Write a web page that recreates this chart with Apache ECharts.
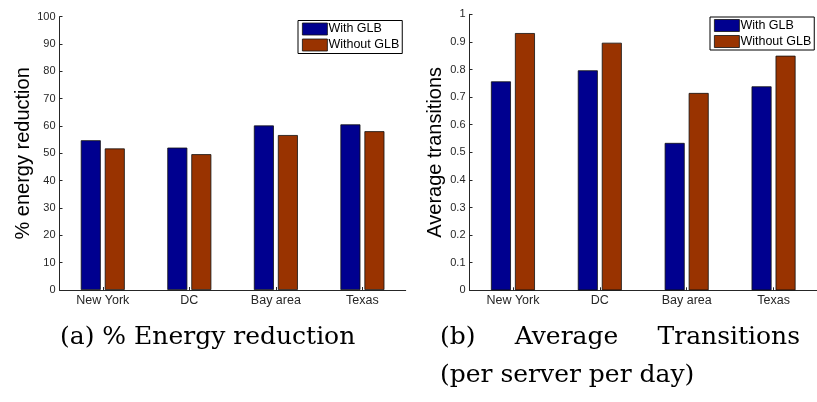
<!DOCTYPE html>
<html>
<head>
<meta charset="utf-8">
<script src="https://cdn.jsdelivr.net/npm/echarts@6/dist/echarts.min.js"></script>
<style>
  html, body { margin: 0; padding: 0; background: #fff; }
  #chart { width: 817px; height: 402px; }
</style>
</head>
<body>
<div id="chart"></div>
<script>
// Regions shown on both panels
const regions = ['New York', 'DC', 'Bay area', 'Texas'];
const seriesNames = ['With GLB', 'Without GLB'];

// (a) percentage energy reduction
const energyWithGLB = [54.8, 52.1, 60.2, 60.6];
const energyWithoutGLB = [51.8, 49.7, 56.7, 58.1];

// (b) average transitions per server per day
const transWithGLB = [0.757, 0.797, 0.534, 0.739];
const transWithoutGLB = [0.932, 0.897, 0.715, 0.850];

// Sub-figure captions
const captionA = '(a) % Energy reduction';
const captionBFirstLine = ['(b)', 'Average', 'Transitions'];
const captionBSecondLine = '(per server per day)';

const BLUE = '#00008f';
const BROWN = '#993300';
const INK = '#262626';
const sans = 'Liberation Sans, Arial, Helvetica, sans-serif';
const captionFont = '25px "DejaVu Serif", serif';

function xAxisFor(gridIndex) {
  return {
    type: 'category',
    gridIndex,
    data: regions,
    axisLine: { lineStyle: { color: INK, width: 1 } },
    axisTick: { show: true, inside: true, length: 3, alignWithLabel: true, lineStyle: { color: INK } },
    axisLabel: { color: INK, fontFamily: sans, fontSize: 12.5, margin: 4 },
    splitLine: { show: false }
  };
}

function yAxisFor(gridIndex, max, interval, name, nameGap) {
  return {
    type: 'value',
    gridIndex,
    min: 0,
    max,
    interval,
    name,
    nameLocation: 'middle',
    nameGap,
    nameTextStyle: { color: '#000', fontFamily: sans, fontSize: 20 },
    axisLine: { show: true, lineStyle: { color: INK, width: 1 } },
    axisTick: { show: true, inside: true, length: 3, lineStyle: { color: INK } },
    axisLabel: { color: INK, fontFamily: sans, fontSize: 11, margin: 4 },
    splitLine: { show: false }
  };
}

function barSeries(name, data, color, idx) {
  return {
    name,
    type: 'bar',
    xAxisIndex: idx,
    yAxisIndex: idx,
    data,
    barWidth: 20,
    barGap: '20%',
    itemStyle: { color, borderColor: '#111', borderWidth: 0.8 },
    emphasis: { disabled: true }
  };
}

function legendAt(left, top) {
  return {
    data: seriesNames,
    orient: 'vertical',
    left,
    top,
    itemWidth: 25,
    itemHeight: 12,
    itemGap: 3,
    padding: [2, 3, 2, 4],
    backgroundColor: '#fff',
    borderColor: '#000',
    borderWidth: 1,
    borderRadius: 0,
    icon: 'rect',
    itemStyle: { borderColor: '#111', borderWidth: 0.8 },
    textStyle: { color: '#000', fontFamily: sans, fontSize: 12.5, padding: [0, 0, 0, -4] },
    selectedMode: false
  };
}

// Justify the first caption line of (b) between a left and right edge
function justifiedWords(words, x0, x1, top) {
  const ctx = document.createElement('canvas').getContext('2d');
  ctx.font = captionFont;
  const widths = words.map(w => ctx.measureText(w).width);
  const total = widths.reduce((s, w) => s + w, 0);
  const gap = (x1 - x0 - total) / (words.length - 1);
  let x = x0;
  return words.map((w, i) => {
    const el = { type: 'text', x, y: top, style: { text: w, font: captionFont, fill: '#000' } };
    x += widths[i] + gap;
    return el;
  });
}

const chart = echarts.init(document.getElementById('chart'), null, { renderer: 'canvas' });

chart.setOption({
  animation: false,
  backgroundColor: '#fff',
  grid: [
    { left: 59.5, top: 16.7, width: 346.2, height: 273.3 },
    { left: 469.5, top: 14.3, width: 348.8, height: 276 }
  ],
  xAxis: [xAxisFor(0), xAxisFor(1)],
  yAxis: [
    yAxisFor(0, 100, 10, '% energy reduction', 24),
    yAxisFor(1, 1, 0.1, 'Average transitions', 24)
  ],
  legend: [legendAt(298, 20.5), legendAt(710, 17)],
  series: [
    barSeries(seriesNames[0], energyWithGLB, BLUE, 0),
    barSeries(seriesNames[1], energyWithoutGLB, BROWN, 0),
    barSeries(seriesNames[0], transWithGLB, BLUE, 1),
    barSeries(seriesNames[1], transWithoutGLB, BROWN, 1)
  ],
  graphic: [
    { type: 'text', x: 60, y: 325, style: { text: captionA, font: captionFont, fill: '#000' } },
    ...justifiedWords(captionBFirstLine, 440, 800, 325),
    { type: 'text', x: 440, y: 363, style: { text: captionBSecondLine, font: captionFont, fill: '#000' } }
  ]
});
</script>
</body>
</html>
